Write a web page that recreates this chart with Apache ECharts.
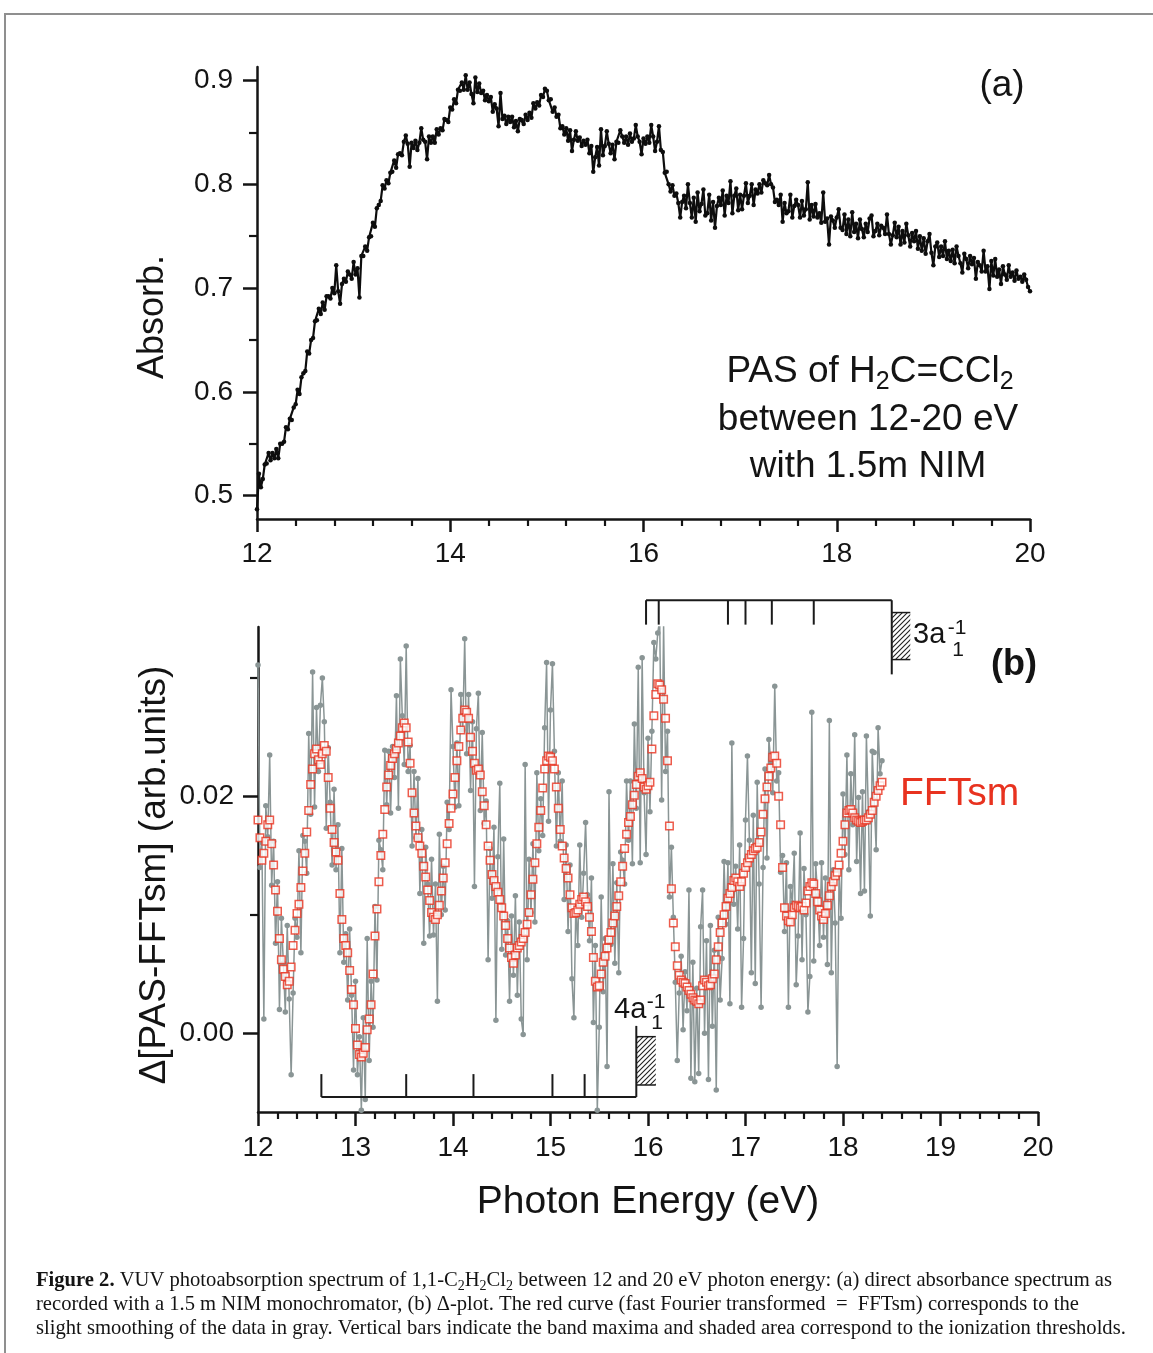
<!DOCTYPE html>
<html><head><meta charset="utf-8">
<script src="https://cdn.jsdelivr.net/npm/echarts@6/dist/echarts.min.js"></script>
<style>html,body{margin:0;padding:0;background:#fff}#c{width:1153px;height:1353px}</style>
</head><body><div id="c"></div>
<script>
// ---------------- data ----------------
const energyStart = 12.0;
const energyStep = 0.02;

// (a) absorbance, 12.00 .. 20.00 eV
const absorbance = [
0.487,0.521,0.508,0.516,0.530,0.531,0.541,0.534,0.541,0.536,
0.545,0.536,0.550,0.550,0.552,0.566,0.564,0.574,0.573,0.585,
0.588,0.602,0.598,0.614,0.618,0.620,0.639,0.637,0.650,0.652,
0.668,0.669,0.680,0.675,0.686,0.679,0.692,0.692,0.690,0.700,
0.695,0.722,0.697,0.685,0.704,0.709,0.706,0.716,0.713,0.709,
0.725,0.713,0.719,0.691,0.731,0.731,0.740,0.736,0.749,0.750,
0.763,0.759,0.777,0.780,0.784,0.799,0.796,0.804,0.801,0.811,
0.812,0.823,0.816,0.829,0.830,0.828,0.841,0.847,0.839,0.817,
0.840,0.835,0.842,0.833,0.840,0.854,0.843,0.841,0.824,0.846,
0.840,0.846,0.840,0.853,0.848,0.854,0.852,0.863,0.862,0.860,
0.874,0.872,0.882,0.878,0.891,0.890,0.898,0.891,0.905,0.891,
0.898,0.887,0.878,0.903,0.889,0.897,0.888,0.890,0.881,0.886,
0.880,0.884,0.870,0.877,0.873,0.856,0.888,0.863,0.866,0.858,
0.865,0.860,0.865,0.855,0.861,0.851,0.863,0.862,0.858,0.867,
0.862,0.869,0.864,0.878,0.873,0.879,0.876,0.886,0.884,0.892,
0.890,0.881,0.882,0.870,0.874,0.865,0.867,0.854,0.856,0.848,
0.854,0.842,0.852,0.832,0.843,0.851,0.842,0.845,0.837,0.842,
0.838,0.843,0.830,0.837,0.812,0.826,0.836,0.818,0.853,0.828,
0.837,0.851,0.839,0.830,0.838,0.824,0.841,0.840,0.852,0.846,
0.840,0.846,0.838,0.849,0.841,0.844,0.857,0.846,0.841,0.829,
0.844,0.839,0.846,0.840,0.857,0.846,0.832,0.841,0.856,0.833,
0.831,0.811,0.812,0.800,0.793,0.799,0.789,0.791,0.782,0.768,
0.783,0.789,0.777,0.800,0.782,0.768,0.787,0.764,0.792,0.774,
0.781,0.795,0.770,0.772,0.790,0.765,0.783,0.758,0.779,0.787,
0.780,0.794,0.770,0.789,0.782,0.803,0.772,0.789,0.796,0.775,
0.790,0.776,0.789,0.801,0.782,0.789,0.800,0.780,0.795,0.791,
0.800,0.792,0.804,0.801,0.799,0.809,0.800,0.797,0.783,0.785,
0.780,0.790,0.764,0.782,0.772,0.774,0.790,0.768,0.779,0.785,
0.780,0.768,0.784,0.770,0.776,0.802,0.766,0.780,0.769,0.781,
0.768,0.772,0.763,0.792,0.764,0.767,0.742,0.769,0.765,0.758,
0.768,0.776,0.758,0.756,0.771,0.752,0.766,0.750,0.773,0.754,
0.762,0.748,0.766,0.757,0.749,0.762,0.754,0.767,0.770,0.750,
0.755,0.762,0.751,0.760,0.758,0.752,0.771,0.752,0.742,0.751,
0.763,0.749,0.759,0.742,0.755,0.744,0.762,0.751,0.740,0.753,
0.745,0.755,0.738,0.750,0.736,0.748,0.733,0.745,0.752,0.734,
0.722,0.740,0.744,0.730,0.740,0.731,0.745,0.728,0.736,0.726,
0.737,0.724,0.740,0.731,0.724,0.715,0.733,0.728,0.719,0.731,
0.723,0.729,0.709,0.725,0.722,0.716,0.736,0.716,0.721,0.699,
0.726,0.712,0.728,0.711,0.718,0.704,0.721,0.713,0.708,0.722,
0.711,0.715,0.707,0.717,0.709,0.711,0.706,0.713,0.708,0.701,
0.697];

// (b) gray data, 12.00 .. 18.40 eV
const deltaRaw = [
0.0311,0.0140,0.0161,0.0012,0.0192,0.0166,0.0235,0.0125,0.0162,0.0076,
0.0128,0.0020,0.0097,0.0059,0.0018,0.0091,0.0029,-0.0035,0.0034,0.0097,
0.0081,0.0154,0.0068,0.0167,0.0162,0.0135,0.0253,0.0185,0.0305,0.0191,
0.0275,0.0221,0.0277,0.0300,0.0263,0.0173,0.0241,0.0195,0.0142,0.0206,
0.0138,0.0176,0.0068,0.0156,0.0060,0.0084,0.0028,0.0088,0.0032,-0.0031,
0.0044,-0.0035,-0.0003,-0.0065,0.0013,-0.0056,0.0080,-0.0023,0.0044,0.0005,
0.0107,0.0045,0.0163,0.0155,0.0138,0.0239,0.0193,0.0238,0.0186,0.0242,
0.0216,0.0285,0.0190,0.0316,0.0268,0.0227,0.0327,0.0221,0.0243,0.0158,
0.0221,0.0165,0.0215,0.0118,0.0172,0.0076,0.0157,0.0126,0.0082,0.0147,
0.0083,0.0126,0.0027,0.0168,0.0100,0.0141,0.0104,0.0195,0.0172,0.0290,
0.0242,0.0191,0.0245,0.0192,0.0286,0.0256,0.0333,0.0236,0.0286,0.0205,
0.0263,0.0124,0.0257,0.0287,0.0188,0.0254,0.0177,0.0196,0.0062,0.0156,
0.0114,0.0174,0.0011,0.0149,0.0211,0.0071,0.0164,0.0066,0.0095,0.0027,
0.0099,0.0049,0.0116,0.0032,0.0094,0.0012,-0.0001,0.0227,0.0062,0.0147,
0.0102,0.0160,0.0094,0.0220,0.0154,0.0198,0.0167,0.0258,0.0313,0.0179,
0.0273,0.0312,0.0238,0.0158,0.0220,0.0162,0.0213,0.0113,0.0159,0.0086,
0.0142,0.0046,0.0013,0.0107,0.0074,0.0159,0.0098,0.0135,0.0178,0.0117,
0.0078,0.0131,0.0009,0.0074,-0.0065,0.0005,0.0115,0.0035,0.0080,-0.0028,
0.0204,0.0075,0.0143,0.0059,0.0127,0.0051,0.0153,0.0146,0.0126,0.0213,
0.0163,0.0213,0.0143,0.0261,0.0190,0.0309,0.0144,0.0317,0.0203,0.0151,
0.0249,0.0187,0.0255,0.0330,0.0316,0.0338,0.0349,0.0197,0.0345,0.0221,
0.0255,0.0115,0.0157,0.0098,0.0043,-0.0023,0.0034,0.0065,0.0003,0.0052,
0.0019,0.0121,-0.0038,0.0060,-0.0041,0.0038,-0.0034,0.0090,0.0121,0.0000,
0.0078,-0.0039,0.0091,0.0006,0.0070,-0.0048,0.0098,0.0028,0.0063,0.0145,
0.0092,0.0144,0.0025,0.0245,0.0109,0.0141,0.0088,0.0159,0.0022,0.0080,
0.0180,0.0234,0.0163,0.0051,0.0184,0.0042,0.0212,0.0126,0.0022,0.0140,
0.0223,0.0148,0.0248,0.0229,0.0203,0.0293,0.0213,0.0220,0.0136,0.0150,
0.0086,0.0144,0.0022,0.0124,0.0110,0.0152,0.0041,0.0082,0.0169,0.0062,
0.0139,0.0100,0.0018,0.0048,0.0271,0.0061,0.0143,0.0116,0.0074,0.0144,
0.0081,0.0131,0.0058,0.0264,0.0051,0.0138,0.0093,-0.0028,0.0137,0.0097,
0.0202,0.0151,0.0235,0.0138,0.0219,0.0176,0.0252,0.0145,0.0199,0.0118,
0.0204,0.0120,0.0251,0.0187,0.0099,0.0238,0.0237,0.0155,0.0258,0.0219,
0.0230];

// (b) FFT-smoothed (red), 12.00 .. 18.40 eV
const deltaFFTsm = [
0.0180,0.0165,0.0146,0.0152,0.0162,0.0176,0.0180,0.0160,0.0142,0.0121,
0.0103,0.0080,0.0062,0.0054,0.0048,0.0041,0.0044,0.0056,0.0074,0.0087,
0.0101,0.0109,0.0123,0.0137,0.0152,0.0170,0.0188,0.0210,0.0223,0.0236,
0.0240,0.0231,0.0227,0.0236,0.0243,0.0238,0.0216,0.0190,0.0172,0.0161,
0.0153,0.0146,0.0118,0.0096,0.0080,0.0074,0.0068,0.0053,0.0037,0.0024,
0.0004,-0.0010,-0.0018,-0.0020,-0.0017,-0.0012,0.0003,0.0012,0.0024,0.0050,
0.0082,0.0105,0.0128,0.0150,0.0168,0.0189,0.0208,0.0218,0.0226,0.0232,
0.0236,0.0240,0.0245,0.0251,0.0258,0.0262,0.0258,0.0246,0.0228,0.0203,
0.0186,0.0175,0.0165,0.0158,0.0152,0.0141,0.0132,0.0121,0.0112,0.0102,
0.0098,0.0096,0.0100,0.0108,0.0120,0.0131,0.0144,0.0160,0.0177,0.0190,
0.0202,0.0216,0.0230,0.0242,0.0256,0.0266,0.0273,0.0271,0.0266,0.0250,
0.0238,0.0228,0.0222,0.0223,0.0218,0.0204,0.0192,0.0176,0.0158,0.0146,
0.0134,0.0129,0.0124,0.0119,0.0113,0.0106,0.0099,0.0091,0.0080,0.0072,
0.0064,0.0059,0.0066,0.0072,0.0074,0.0077,0.0080,0.0085,0.0092,0.0102,
0.0117,0.0130,0.0144,0.0160,0.0174,0.0188,0.0207,0.0223,0.0230,0.0234,
0.0233,0.0230,0.0223,0.0208,0.0190,0.0172,0.0158,0.0148,0.0139,0.0131,
0.0117,0.0106,0.0101,0.0102,0.0104,0.0109,0.0113,0.0115,0.0111,0.0107,
0.0098,0.0086,0.0064,0.0044,0.0039,0.0040,0.0050,0.0060,0.0065,0.0072,
0.0079,0.0085,0.0093,0.0099,0.0107,0.0116,0.0128,0.0141,0.0156,0.0168,
0.0178,0.0183,0.0193,0.0201,0.0210,0.0217,0.0220,0.0215,0.0208,0.0206,
0.0209,0.0212,0.0240,0.0268,0.0286,0.0295,0.0294,0.0290,0.0282,0.0266,
0.0230,0.0175,0.0122,0.0093,0.0073,0.0057,0.0049,0.0045,0.0043,0.0042,
0.0039,0.0036,0.0033,0.0030,0.0028,0.0027,0.0025,0.0028,0.0040,0.0045,
0.0043,0.0040,0.0041,0.0046,0.0050,0.0062,0.0073,0.0085,0.0093,0.0100,
0.0107,0.0114,0.0118,0.0123,0.0129,0.0131,0.0128,0.0124,0.0128,0.0135,
0.0140,0.0144,0.0148,0.0151,0.0154,0.0156,0.0157,0.0161,0.0170,0.0185,
0.0198,0.0208,0.0217,0.0224,0.0233,0.0234,0.0228,0.0200,0.0176,0.0140,
0.0106,0.0099,0.0095,0.0094,0.0100,0.0106,0.0108,0.0107,0.0106,0.0107,
0.0104,0.0110,0.0120,0.0124,0.0127,0.0126,0.0118,0.0111,0.0104,0.0099,
0.0096,0.0101,0.0108,0.0116,0.0124,0.0128,0.0133,0.0136,0.0142,0.0152,
0.0162,0.0176,0.0186,0.0188,0.0189,0.0186,0.0182,0.0180,0.0179,0.0178,
0.0179,0.0180,0.0180,0.0182,0.0185,0.0188,0.0195,0.0200,0.0205,0.0209,
0.0212];

// band maxima (vertical bars) and ionization thresholds (eV)
const bandMaxima3a = [15.98, 16.11, 16.82, 17.00, 17.27, 17.70];
const threshold3a = [18.50, 18.69];
const bandMaxima4a = [12.65, 13.52, 14.21, 15.02, 15.35];
const threshold4a = [15.88, 16.08];

// tick values
const absTicksMajor = [0.5, 0.6, 0.7, 0.8, 0.9];
const absTicksMinor = [0.55, 0.65, 0.75, 0.85];
const deltaTicksMajor = [0.00, 0.02];
const deltaTicksMinor = [0.01, 0.03];

// ---------------- chart ----------------
function pairs(arr) { return arr.map((v, i) => [+(energyStart + i * energyStep).toFixed(2), v]); }

const SANS = '"Liberation Sans", Arial, Helvetica, sans-serif';
const NARROW = '"Liberation Sans Narrow", "Liberation Sans", Arial, sans-serif';
const SERIF = '"Liberation Serif", "Times New Roman", serif';
const INK = '#141414';

// bracket geometry (data units of panel b)
const up = { base: 0.03656, tick: 0.0345, thr: 0.0303, hTop: 0.03552, hBot: 0.03155 };
const lo = { base: -0.00538, tick: -0.00345, thr: 0.00062, hTop: -0.00029, hBot: -0.00437 };

function bracketSegs(bands, thr, g) {
  const s = [[bands[0], g.base, thr[0], g.base]];
  bands.forEach(b => s.push([b, g.base, b, g.tick]));
  s.push([thr[0], g.base, thr[0], g.thr]);
  return s;
}
const segData = bracketSegs(bandMaxima3a, threshold3a, up).concat(bracketSegs(bandMaxima4a, threshold4a, lo));
const hatchData = [[threshold3a[0], up.hTop, threshold3a[1], up.hBot], [threshold4a[0], lo.hTop, threshold4a[1], lo.hBot]];

const pat = document.createElement('canvas');
pat.width = 5; pat.height = 5;
(function () {
  const g = pat.getContext('2d');
  g.strokeStyle = '#222'; g.lineWidth = 1.1;
  g.beginPath();
  g.moveTo(-1, 6); g.lineTo(6, -1);
  g.moveTo(-1, 1); g.lineTo(1, -1);
  g.moveTo(4, 6); g.lineTo(6, 4);
  g.stroke();
})();

const axisLineStyle = { color: INK, width: 2.5 };
const tickLabel = { color: INK, fontSize: 28, fontFamily: SANS };

const chart = echarts.init(document.getElementById('c'), null, { renderer: 'canvas' });

function txt(x, y, text, opt) {
  return Object.assign({ type: 'text', x: x, y: y, silent: true,
    style: Object.assign({ text: text, fill: INK, font: '36px ' + SANS, align: 'center', verticalAlign: 'middle',
      textAlign: 'center', textVerticalAlign: 'middle' }, opt && opt.style) }, opt && opt.el);
}

const CAP = 20.6;
const richCap = {
  b: { fontFamily: SERIF, fontSize: CAP, fontWeight: 'bold', lineHeight: 25, fill: INK, color: INK },
  s: { fontFamily: SERIF, fontSize: 14, lineHeight: 15, verticalAlign: 'bottom', fill: INK, color: INK }
};
const richPAS = {
  n: { fontFamily: SANS, fontSize: 37, lineHeight: 46, fill: INK, color: INK },
  s: { fontFamily: SANS, fontSize: 25, lineHeight: 25, verticalAlign: 'bottom', fill: INK, color: INK }
};

chart.setOption({
  animation: false,
  backgroundColor: '#fff',
  grid: [
    { left: 257, top: 67, width: 773, height: 452 },
    { left: 258, top: 627, width: 780, height: 485 }
  ],
  xAxis: [
    { type: 'value', gridIndex: 0, min: 12, max: 20, interval: 2,
      axisLine: { onZero: false, lineStyle: axisLineStyle }, axisTick: { length: 13, lineStyle: { color: INK, width: 2.5 } },
      minorTick: { show: true, splitNumber: 5, length: 7, lineStyle: { color: INK, width: 2.2 } },
      splitLine: { show: false }, minorSplitLine: { show: false },
      axisLabel: Object.assign({ margin: 21 }, tickLabel) },
    { type: 'value', gridIndex: 1, min: 12, max: 20, interval: 1,
      axisLine: { onZero: false, lineStyle: axisLineStyle }, axisTick: { length: 14, lineStyle: { color: INK, width: 2.5 } },
      minorTick: { show: true, splitNumber: 5, length: 7, lineStyle: { color: INK, width: 2.2 } },
      splitLine: { show: false }, minorSplitLine: { show: false },
      axisLabel: Object.assign({ margin: 22 }, tickLabel) }
  ],
  yAxis: [
    { type: 'value', gridIndex: 0, position: 'left', min: 0.4775, max: 0.913,
      axisLine: { show: true, onZero: false, lineStyle: axisLineStyle },
      axisTick: { show: true, length: 14, customValues: absTicksMajor, lineStyle: { color: INK, width: 2.5 } },
      axisLabel: Object.assign({ margin: 24, customValues: absTicksMajor, formatter: v => (+v).toFixed(1) }, tickLabel),
      splitLine: { show: false } },
    { type: 'value', gridIndex: 0, position: 'left', offset: 0, min: 0.4775, max: 0.913,
      axisLine: { show: false, onZero: false },
      axisTick: { show: true, length: 8, customValues: absTicksMinor, lineStyle: { color: INK, width: 2.2 } },
      axisLabel: { show: false }, splitLine: { show: false } },
    { type: 'value', gridIndex: 1, position: 'left', min: -0.00665, max: 0.0343,
      axisLine: { show: true, onZero: false, lineStyle: axisLineStyle },
      axisTick: { show: true, length: 15, customValues: deltaTicksMajor, lineStyle: { color: INK, width: 2.5 } },
      axisLabel: Object.assign({ margin: 24, customValues: deltaTicksMajor, formatter: v => (+v).toFixed(2) }, tickLabel),
      splitLine: { show: false } },
    { type: 'value', gridIndex: 1, position: 'left', offset: 0, min: -0.00665, max: 0.0343,
      axisLine: { show: false, onZero: false },
      axisTick: { show: true, length: 8, customValues: deltaTicksMinor, lineStyle: { color: INK, width: 2.2 } },
      axisLabel: { show: false }, splitLine: { show: false } }
  ],
  series: [
    { name: 'PAS', type: 'line', xAxisIndex: 0, yAxisIndex: 0, data: pairs(absorbance),
      symbol: 'circle', symbolSize: 4.5, showSymbol: true, silent: true,
      itemStyle: { color: '#0d0d0d' }, lineStyle: { color: '#0d0d0d', width: 2.2 } },
    { name: 'delta', type: 'line', xAxisIndex: 1, yAxisIndex: 2, data: pairs(deltaRaw),
      symbol: 'circle', symbolSize: 5.5, showSymbol: true, silent: true, clip: true,
      itemStyle: { color: '#8a9595' }, lineStyle: { color: '#8a9595', width: 1.5 } },
    { name: 'FFTsm', type: 'scatter', xAxisIndex: 1, yAxisIndex: 2, data: pairs(deltaFFTsm),
      symbol: 'rect', symbolSize: 7.5, silent: true, z: 5,
      itemStyle: { color: '#ffffff', borderColor: '#e8321f', borderWidth: 1.5 } },
    { name: 'bars', type: 'custom', xAxisIndex: 1, yAxisIndex: 2, data: segData, clip: false, silent: true, z: 6,
      encode: { x: [0, 2], y: [1, 3] },
      renderItem: function (params, api) {
        const a = api.coord([api.value(0), api.value(1)]);
        const b = api.coord([api.value(2), api.value(3)]);
        return { type: 'line', shape: { x1: a[0], y1: a[1], x2: b[0], y2: b[1] },
          style: { stroke: '#1a1a1a', lineWidth: 2 } };
      } },
    { name: 'thresholds', type: 'custom', xAxisIndex: 1, yAxisIndex: 2, data: hatchData, clip: false, silent: true, z: 6,
      encode: { x: [0, 2], y: [1, 3] },
      renderItem: function (params, api) {
        const a = api.coord([api.value(0), api.value(1)]);
        const b = api.coord([api.value(2), api.value(3)]);
        return { type: 'group', children: [
          { type: 'rect', shape: { x: a[0], y: a[1], width: b[0] - a[0], height: b[1] - a[1] },
            style: { fill: { type: 'pattern', image: pat, repeat: 'repeat' }, stroke: null } },
          { type: 'line', shape: { x1: a[0], y1: a[1], x2: b[0], y2: a[1] }, style: { stroke: '#1a1a1a', lineWidth: 1.5 } },
          { type: 'line', shape: { x1: a[0], y1: b[1], x2: b[0], y2: b[1] }, style: { stroke: '#1a1a1a', lineWidth: 1.5 } }
        ] };
      } }
  ],
  graphic: [
    { type: 'rect', silent: true, shape: { x: 5, y: 14, width: 1300, height: 1500 },
      style: { fill: 'none', stroke: '#8f8f8f', lineWidth: 2 } },
    txt(1002, 86, '(a)', { style: { font: '37px ' + SANS } }),
    txt(870, 372, '{n|PAS of H}{s|2}{n|C=CCl}{s|2}', { style: { font: '37px ' + SANS, rich: richPAS } }),
    txt(868, 420, 'between 12-20 eV', { style: { font: '37px ' + SANS } }),
    txt(868, 467, 'with 1.5m NIM', { style: { font: '37px ' + SANS } }),
    txt(153, 317, 'Absorb.', { el: { rotation: Math.PI / 2 } }),
    txt(1014, 665, '(b)', { style: { font: 'bold 36px ' + SANS } }),
    txt(900, 794, 'FFTsm', { style: { font: '39px ' + SANS, fill: '#e8321f', align: 'left', textAlign: 'left' } }),
    txt(913, 635, '3a', { style: { font: '29px ' + NARROW, align: 'left', textAlign: 'left' } }),
    txt(958, 650, '1', { style: { font: '21px ' + NARROW } }),
    txt(957, 628, '-1', { style: { font: '21px ' + NARROW } }),
    txt(614, 1010, '4a', { style: { font: '29px ' + NARROW, align: 'left', textAlign: 'left' } }),
    txt(657, 1023, '1', { style: { font: '21px ' + NARROW } }),
    txt(656, 1002, '-1', { style: { font: '21px ' + NARROW } }),
    txt(155, 875, 'Δ[PAS-FFTsm] (arb.units)', { el: { rotation: Math.PI / 2 }, style: { font: '37px ' + SANS } }),
    txt(648, 1202, 'Photon Energy (eV)', { style: { font: '39px ' + SANS } }),
    txt(36, 1281, '{b|Figure 2.} VUV photoabsorption spectrum of 1,1-C{s|2}H{s|2}Cl{s|2} between 12 and 20 eV photon energy: (a) direct absorbance spectrum as',
      { style: { font: CAP + 'px ' + SERIF, align: 'left', textAlign: 'left', rich: richCap } }),
    txt(36, 1305, 'recorded with a 1.5 m NIM monochromator, (b) Δ-plot. The red curve (fast Fourier transformed  =  FFTsm) corresponds to the',
      { style: { font: CAP + 'px ' + SERIF, align: 'left', textAlign: 'left' } }),
    txt(36, 1329, 'slight smoothing of the data in gray. Vertical bars indicate the band maxima and shaded area correspond to the ionization thresholds.',
      { style: { font: CAP + 'px ' + SERIF, align: 'left', textAlign: 'left' } })
  ]
});
</script>
</body></html>
